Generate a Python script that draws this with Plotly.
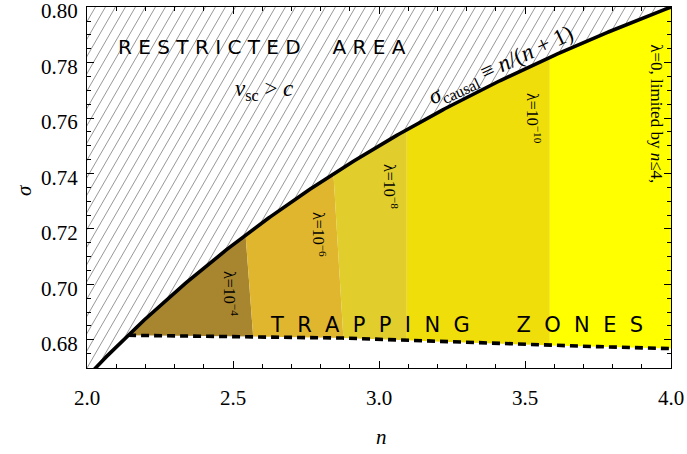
import numpy as np
import plotly.graph_objects as go

# ---- axis extents ----
n_range = [2.0, 4.0]
sigma_range = [0.6698, 0.80005]

# ---- lower (trapping) boundary, dashed ----
trap_n = [2.1407, 2.567, 2.877, 3.035, 3.5, 4.0]
trap_sigma = [0.6816, 0.6812, 0.6806, 0.6800, 0.6782, 0.6768]

# ---- trapping zones: edges on the causal curve (top) and on the dashed boundary (bottom) ----
zone_edges_top = [2.1407, 2.543, 2.844, 3.095, 3.585, 4.0]
zone_edges_bottom = [2.1407, 2.569, 2.878, 3.095, 3.585, 4.0]
zone_colors = ["#A8852F", "#E0B62F", "#E1CD2B", "#F0DE0B", "#FFFF00"]
zone_labels = ["λ=10<sup>−4</sup>", "λ=10<sup>−6</sup>", "λ=10<sup>−8</sup>",
               "λ=10<sup>−10</sup>", "λ=0, limited by <i>n</i>≤4,"]
zone_label_n = [2.493, 2.795, 3.041, 3.531, 3.952]
zone_label_sigma = [0.6965, 0.7181, 0.7351, 0.7600, 0.7614]
zone_label_size = [16, 16, 16, 16, 17]

# ---- tick labels ----
x_ticks = [2.0, 2.5, 3.0, 3.5, 4.0]
y_ticks = [0.68, 0.70, 0.72, 0.74, 0.76, 0.78, 0.80]

SERIF = "Liberation Serif, Times New Roman, serif"
SANS = "DejaVu Sans"

# plot-area size in pixels (used to set up the hatch angle on screen)
W_PX, H_PX = 584.0, 361.0
px_per_n = W_PX / (n_range[1] - n_range[0])
px_per_s = H_PX / (sigma_range[1] - sigma_range[0])


def sigma_causal(n):
    return n / (n + 1.0)


def trap_boundary(n):
    return np.interp(n, trap_n, trap_sigma)


fig = go.Figure()

# ---- hatching of the restricted area (above the causal curve) ----
angle = np.deg2rad(60.0)
spacing_px = 10.0
dn_per_ds = px_per_s / (np.tan(angle) * px_per_n)  # n-shift per unit sigma along a hatch line
height_s = sigma_range[1] - sigma_range[0]
hx, hy = [], []
k_min = int(-np.ceil(dn_per_ds * height_s * px_per_n / spacing_px)) - 1
k_max = int(np.ceil(W_PX / spacing_px)) + 1
for k in range(k_min, k_max + 1):
    nb = n_range[0] + k * spacing_px / px_per_n

    def line_s(n, nb=nb):
        return sigma_range[0] + (n - nb) / dn_per_ds

    n_top = nb + dn_per_ds * height_s
    hi = min(n_top, n_range[1])
    lo = max(nb, n_range[0] - 0.05)
    if hi <= lo:
        continue
    f = lambda n: line_s(n) - sigma_causal(n)
    if f(hi) <= 0:
        continue
    if f(lo) < 0:
        a, b = lo, hi
        for _ in range(60):
            m = 0.5 * (a + b)
            if f(m) < 0:
                a = m
            else:
                b = m
        lo = b
    hx += [lo, hi, None]
    hy += [line_s(lo), line_s(hi), None]

fig.add_trace(go.Scatter(x=hx, y=hy, mode="lines",
                         line=dict(color="#8c8c8c", width=0.9),
                         hoverinfo="skip"))

# ---- coloured trapping zones ----
for i, col in enumerate(zone_colors):
    t0, t1 = zone_edges_top[i], zone_edges_top[i + 1]
    b0, b1 = zone_edges_bottom[i], zone_edges_bottom[i + 1]
    nt = np.linspace(t0, t1, 80)
    nbot = np.linspace(b1, b0, 80)
    px = np.concatenate([nt, nbot, [t0]])
    py = np.concatenate([sigma_causal(nt), trap_boundary(nbot), [sigma_causal(t0)]])
    fig.add_trace(go.Scatter(x=px, y=py, mode="lines", fill="toself",
                             fillcolor=col, line=dict(width=0, color=col),
                             hoverinfo="skip"))

# ---- causal curve ----
n_curve = np.linspace(1.95, 4.0, 300)
fig.add_trace(go.Scatter(x=n_curve, y=sigma_causal(n_curve), mode="lines",
                         line=dict(color="black", width=3.6), hoverinfo="skip"))

# ---- dashed trapping boundary ----
n_dash = np.linspace(trap_n[0], trap_n[-1], 120)
fig.add_trace(go.Scatter(x=n_dash, y=trap_boundary(n_dash), mode="lines",
                         line=dict(color="black", width=3.6, dash="8px,5px"),
                         hoverinfo="skip"))

ann = []
for lab, xn, ys, fs in zip(zone_labels, zone_label_n, zone_label_sigma, zone_label_size):
    ann.append(dict(x=xn, y=ys, text=lab, textangle=90, showarrow=False,
                    font=dict(family=SERIF, size=fs, color="black")))

nb = "\u00a0"
restricted = nb.join("RESTRICTED") + nb * 5 + nb.join("AREA")
trapping = (nb * 2).join("TRAPPING") + nb * 7 + (nb * 2).join("ZONES")
ann += [
    dict(x=2.6, y=0.7858, text=restricted, showarrow=False,
         font=dict(family=SANS, size=20, color="black")),
    dict(x=3.265, y=0.6853, text=trapping, showarrow=False,
         font=dict(family=SANS, size=21, color="black")),
    dict(x=2.606, y=0.7701, text="<i>v</i><sub>sc</sub> > <i>c</i>", showarrow=False,
         font=dict(family=SERIF, size=23, color="black")),
    dict(x=3.42, y=0.7787, text="<i>σ</i><sub>causal</sub> ≡ <i>n</i>/(<i>n</i> + 1)",
         textangle=-25, showarrow=False,
         font=dict(family=SERIF, size=23, color="black")),
    dict(x=3.01, y=-0.191, xref="x", yref="paper", text="<i>n</i>", showarrow=False,
         yanchor="middle", font=dict(family=SERIF, size=21, color="black")),
    dict(x=-0.132, y=0.493, xref="paper", yref="paper", text="<i>σ</i>", textangle=-90,
         showarrow=False, font=dict(family=SERIF, size=21, color="black")),
]

axis_common = dict(showgrid=False, zeroline=False, showline=True, linecolor="black",
                   linewidth=1.2, mirror="allticks", ticks="inside", ticklen=7,
                   tickwidth=1, tickcolor="black", ticklabeloverflow="allow",
                   automargin=False,
                   tickfont=dict(family=SERIF, size=21, color="black"))

fig.update_layout(
    width=687, height=454,
    margin=dict(l=87, r=16, t=7, b=86),
    paper_bgcolor="white", plot_bgcolor="white",
    showlegend=False,
    annotations=ann,
    xaxis=dict(range=n_range, tickvals=x_ticks, ticktext=[f"{v:.1f}" for v in x_ticks],
               ticklabelstandoff=11,
               minor=dict(dtick=0.1, ticks="inside", ticklen=4, tickcolor="black",
                          showgrid=False),
               **axis_common),
    yaxis=dict(range=sigma_range, tickvals=y_ticks, ticktext=[f"{v:.2f}" for v in y_ticks],
               ticklabelstandoff=4, ticklabelshift=4,
               minor=dict(tick0=0.68, dtick=0.005, ticks="inside", ticklen=4,
                          tickcolor="black", showgrid=False),
               **axis_common),
)

fig.write_html("out.html")
